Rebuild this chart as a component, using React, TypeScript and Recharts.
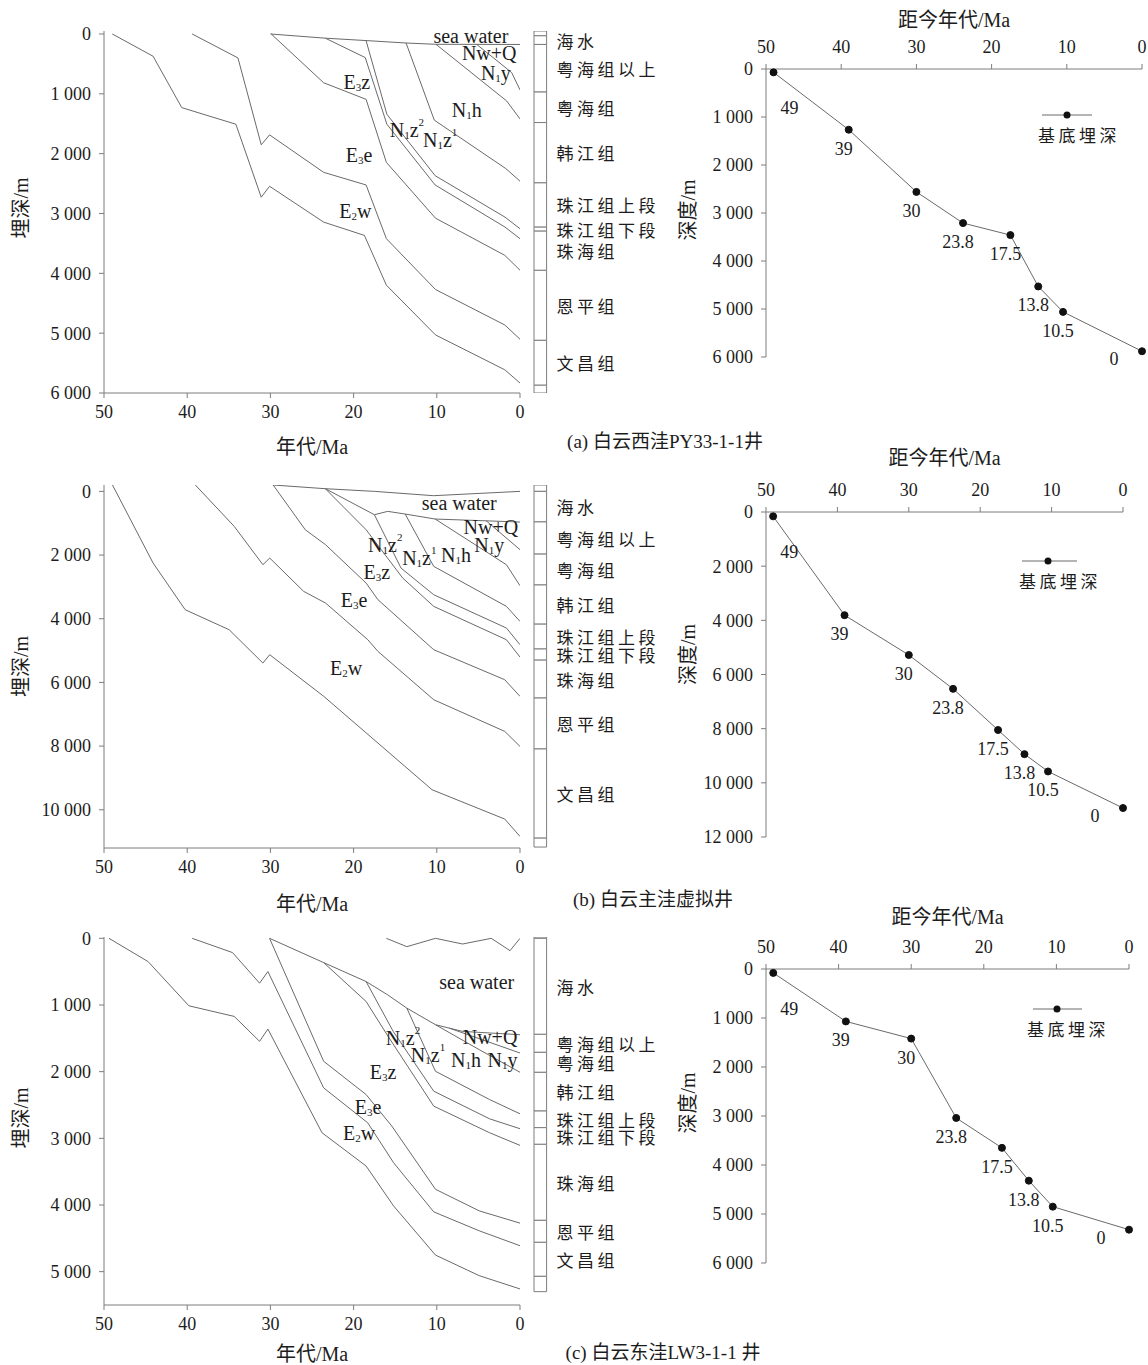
"use client";
import React from 'react';
import { LineChart, Line, XAxis, YAxis, BarChart, Bar, ReferenceDot, LabelList, Legend } from 'recharts';

// 字体与颜色
const SERIF = "'Liberation Serif', 'Noto Sans CJK SC', serif";
const CJK = "'Noto Sans CJK SC', sans-serif";
const INK = '#1c1c1c';
const AXIS = '#7d7d7d';
const CURVE = '#6a6a6a';

const xTicks = [50, 40, 30, 20, 10, 0];

// ---------- (a) 白云西洼 PY33-1-1 井：埋藏史各界面 (年代 Ma, 埋深 m)
const aSeabed = [{ t: 30, d: 0 }, { t: 23.4, d: 70 }, { t: 18.5, d: 110 }, { t: 13.8, d: 150 }, { t: 10.2, d: 172 }, { t: 0, d: 175 }];
const aNwQBase = [{ t: 5.2, d: 174 }, { t: 1.0, d: 645 }, { t: 0, d: 935 }];
const aN1yBase = [{ t: 10.1, d: 172 }, { t: 1.6, d: 1120 }, { t: 0, d: 1420 }];
const aN1hBase = [{ t: 13.7, d: 148 }, { t: 10.3, d: 1440 }, { t: 1.7, d: 2250 }, { t: 0, d: 2460 }];
const aN1z1Base = [{ t: 18.5, d: 111 }, { t: 16.0, d: 1342 }, { t: 10.2, d: 2368 }, { t: 1.8, d: 3061 }, { t: 0, d: 3255 }];
const aN1z2Base = [{ t: 23.4, d: 70 }, { t: 18.6, d: 394 }, { t: 16.0, d: 1508 }, { t: 10.2, d: 2523 }, { t: 1.8, d: 3227 }, { t: 0, d: 3421 }];
const aE3zBase = [{ t: 29.9, d: 0 }, { t: 23.6, d: 815 }, { t: 18.5, d: 1092 }, { t: 16.06, d: 2146 }, { t: 10.16, d: 3078 }, { t: 1.83, d: 3699 }, { t: 0, d: 3948 }];
const aE3eBase = [{ t: 39.4, d: 0 }, { t: 33.9, d: 400 }, { t: 31.1, d: 1852 }, { t: 30.1, d: 1686 }, { t: 23.6, d: 2312 }, { t: 18.5, d: 2523 }, { t: 16.06, d: 3421 }, { t: 10.16, d: 4270 }, { t: 1.83, d: 4863 }, { t: 0, d: 5101 }];
const aE2wBase = [{ t: 49, d: 0 }, { t: 44.1, d: 372 }, { t: 40.65, d: 1231 }, { t: 34.15, d: 1508 }, { t: 31.1, d: 2728 }, { t: 30.1, d: 2545 }, { t: 23.6, d: 3144 }, { t: 18.7, d: 3366 }, { t: 16.06, d: 4198 }, { t: 10.16, d: 5029 }, { t: 1.83, d: 5612 }, { t: 0, d: 5833 }];
const aLabels = [
  { text: 'sea water', t: 5.9, d: 34 },
  { text: 'Nw+Q', t: 3.7, d: 320 },
  { text: 'N_1y', t: 2.9, d: 660 },
  { text: 'N_1h', t: 6.4, d: 1270 },
  { text: 'N_1z^2', t: 13.6, d: 1605 },
  { text: 'N_1z^1', t: 9.6, d: 1772 },
  { text: 'E_3z', t: 19.6, d: 802 },
  { text: 'E_3e', t: 19.35, d: 2022 },
  { text: 'E_2w', t: 19.8, d: 2958 },
];
const aColumn = [-50, 30, 175, 970, 1480, 2488, 3228, 3295, 3950, 5120, 5870, 6000];
const aBasement = [70, 1265, 2560, 3210, 3460, 4530, 5060, 5880];

// ---------- (b) 白云主洼虚拟井
const bSeaSurface = [{ t: 29.7, d: -200 }, { t: 23.4, d: -84 }, { t: 17.5, d: 0 }, { t: 10.4, d: 136 }, { t: 0, d: 0 }];
const bSeabed = [{ t: 23.4, d: -84 }, { t: 17.5, d: 733 }, { t: 15.9, d: 628 }, { t: 13.8, d: 712 }, { t: 10.2, d: 869 }, { t: 0, d: 963 }];
const bNwQBase = [{ t: 4.1, d: 915 }, { t: 0, d: 1832 }];
const bN1yBase = [{ t: 10.2, d: 869 }, { t: 1.63, d: 2304 }, { t: 0, d: 2963 }];
const bN1hBase = [{ t: 13.8, d: 712 }, { t: 10.37, d: 2356 }, { t: 1.63, d: 3612 }, { t: 0, d: 4083 }];
const bN1z1Base = [{ t: 17.5, d: 733 }, { t: 14.3, d: 2409 }, { t: 10.37, d: 3246 }, { t: 1.63, d: 4292 }, { t: 0, d: 4816 }];
const bN1z2Base = [{ t: 23.4, d: -84 }, { t: 18.5, d: 1204 }, { t: 14.1, d: 2722 }, { t: 10.37, d: 3612 }, { t: 1.63, d: 4659 }, { t: 0, d: 5204 }];
const bE3zBase = [{ t: 29.67, d: -200 }, { t: 25.81, d: 1204 }, { t: 23.37, d: 1675 }, { t: 18.5, d: 2879 }, { t: 17.07, d: 3403 }, { t: 10.37, d: 4973 }, { t: 1.83, d: 5916 }, { t: 0, d: 6439 }];
const bE3eBase = [{ t: 39.02, d: -200 }, { t: 34.35, d: 1099 }, { t: 30.9, d: 2303 }, { t: 30.08, d: 2094 }, { t: 26.0, d: 3141 }, { t: 23.37, d: 3507 }, { t: 18.29, d: 4659 }, { t: 17.07, d: 5026 }, { t: 10.37, d: 6544 }, { t: 1.83, d: 7538 }, { t: 0, d: 8010 }];
const bE2wBase = [{ t: 48.98, d: -200 }, { t: 44.1, d: 2251 }, { t: 40.24, d: 3717 }, { t: 34.96, d: 4345 }, { t: 30.9, d: 5392 }, { t: 30.08, d: 5130 }, { t: 23.58, d: 6439 }, { t: 17.07, d: 7905 }, { t: 10.57, d: 9371 }, { t: 1.83, d: 10292 }, { t: 0, d: 10836 }];
const bLabels = [
  { text: 'sea water', t: 7.3, d: 365 },
  { text: 'Nw+Q', t: 3.5, d: 1119 },
  { text: 'N_1y', t: 3.7, d: 1684 },
  { text: 'N_1h', t: 7.7, d: 1998 },
  { text: 'N_1z^1', t: 12.1, d: 2093 },
  { text: 'N_1z^2', t: 16.2, d: 1684 },
  { text: 'E_3z', t: 17.2, d: 2532 },
  { text: 'E_3e', t: 19.95, d: 3412 },
  { text: 'E_2w', t: 20.9, d: 5547 },
];
const bColumn = [-200, 0, 960, 1970, 2940, 4170, 4950, 5300, 6490, 8090, 10890, 11170];
const bBasement = [160, 3810, 5280, 6530, 8050, 8940, 9580, 10930];

// ---------- (c) 白云东洼 LW3-1-1 井
const cSeaSurface = [{ t: 16.06, d: 0 }, { t: 13.6, d: 125 }, { t: 10.16, d: 0 }, { t: 6.9, d: 85 }, { t: 3.45, d: 0 }, { t: 1.2, d: 185 }, { t: 0, d: 0 }];
const cSeabed = [{ t: 30.1, d: 0 }, { t: 23.6, d: 364 }, { t: 18.5, d: 648 }, { t: 15.9, d: 848 }, { t: 13.6, d: 1047 }, { t: 10.16, d: 1296 }, { t: 6.9, d: 1396 }, { t: 0, d: 1446 }];
const cNwQBase = [{ t: 8.5, d: 1347 }, { t: 0, d: 1720 }];
const cN1yBase = [{ t: 10.16, d: 1296 }, { t: 4.9, d: 1670 }, { t: 0, d: 2009 }];
const cN1hBase = [{ t: 13.6, d: 1047 }, { t: 10.16, d: 1994 }, { t: 3.66, d: 2418 }, { t: 0, d: 2632 }];
const cN1z1Base = [{ t: 18.5, d: 648 }, { t: 15.24, d: 1396 }, { t: 10.37, d: 2293 }, { t: 3.66, d: 2707 }, { t: 0, d: 2856 }];
const cN1z2Base = [{ t: 23.6, d: 364 }, { t: 18.5, d: 947 }, { t: 15.85, d: 1471 }, { t: 10.37, d: 2517 }, { t: 3.66, d: 2916 }, { t: 0, d: 3106 }];
const cE3zBase = [{ t: 30.1, d: 0 }, { t: 23.6, d: 1844 }, { t: 18.5, d: 2343 }, { t: 15.4, d: 2817 }, { t: 10.16, d: 3764 }, { t: 4.9, d: 4088 }, { t: 0, d: 4272 }];
const cE3eBase = [{ t: 39.4, d: 0 }, { t: 34.55, d: 214 }, { t: 31.3, d: 673 }, { t: 30.3, d: 498 }, { t: 23.6, d: 2243 }, { t: 18.3, d: 2767 }, { t: 15.2, d: 3365 }, { t: 10.37, d: 4103 }, { t: 4.9, d: 4387 }, { t: 0, d: 4611 }];
const cE2wBase = [{ t: 49.4, d: 0 }, { t: 44.7, d: 349 }, { t: 39.8, d: 1012 }, { t: 34.35, d: 1171 }, { t: 31.3, d: 1545 }, { t: 30.3, d: 1361 }, { t: 23.8, d: 2916 }, { t: 18.5, d: 3415 }, { t: 15.2, d: 4013 }, { t: 10.16, d: 4751 }, { t: 4.9, d: 5060 }, { t: 0, d: 5259 }];
const cLabels = [
  { text: 'sea water', t: 5.2, d: 650 },
  { text: 'Nw+Q', t: 3.6, d: 1475 },
  { text: 'N_1y', t: 2.1, d: 1825 },
  { text: 'N_1h', t: 6.5, d: 1825 },
  { text: 'N_1z^1', t: 11.06, d: 1750 },
  { text: 'N_1z^2', t: 14.06, d: 1495 },
  { text: 'E_3z', t: 16.47, d: 2000 },
  { text: 'E_3e', t: 18.27, d: 2525 },
  { text: 'E_2w', t: 19.35, d: 2920 },
];
const cColumn = [-20, 0, 1440, 1710, 2010, 2590, 2840, 3090, 4230, 4560, 5070, 5300];
const cBasement = [80, 1070, 1420, 3040, 3650, 4320, 4850, 5320];

// 地层柱各段名称（首尾为空段）
const columnNames = ['', '海水', '粤海组以上', '粤海组', '韩江组', '珠江组上段', '珠江组下段', '珠海组', '恩平组', '文昌组', ''];
// 基底埋深点的年代
const ages = [49, 39, 30, 23.8, 17.5, 13.8, 10.5, 0];

const fmt = (v: number) => (v >= 1000 ? `${Math.floor(v / 1000)} ${String(v % 1000).padStart(3, '0')}` : String(v));

const XTitle = (props: any) => {
  const { viewBox, value, gap, side } = props;
  const cx = viewBox.x + viewBox.width / 2;
  const cy = side === 'bottom' ? viewBox.y + gap : viewBox.y + viewBox.height - gap;
  return (
    <text x={cx} y={cy} textAnchor="middle" dominantBaseline="central" fill={INK} fontSize={20} fontFamily={SERIF}>
      {value}
    </text>
  );
};

const YTitle = (props: any) => {
  const { viewBox, value, dx, dy } = props;
  const cx = viewBox.x + dx;
  const cy = viewBox.y + viewBox.height / 2 + dy;
  return (
    <text x={cx} y={cy} transform={`rotate(-90 ${cx} ${cy})`} textAnchor="middle" dominantBaseline="central" fill={INK} fontSize={20} fontFamily={SERIF}>
      {value}
    </text>
  );
};

// "E_3z" / "N_1z^2" 之类的地层符号
const FormationText = ({ cx, cy, text }: { cx: number; cy: number; text: string }) => {
  const parts = text.split(/(_\d|\^\d)/).filter(Boolean);
  let shift = 0;
  const spans = parts.map((p, i) => {
    if (p[0] === '_') {
      const el = <tspan key={i} dy={5 - shift} fontSize={11}>{p[1]}</tspan>;
      shift = 5;
      return el;
    }
    if (p[0] === '^') {
      const el = <tspan key={i} dy={-8 - shift} fontSize={11}>{p[1]}</tspan>;
      shift = -8;
      return el;
    }
    const el = <tspan key={i} dy={-shift}>{p}</tspan>;
    shift = 0;
    return el;
  });
  return (
    <text x={cx} y={cy} textAnchor="middle" dominantBaseline="central" fill={INK} fontSize={20} fontFamily={SERIF}>
      {spans}
    </text>
  );
};

function BurialChart({ top, height, domain, ticks, lines, labels, titleGap, yDy }: any) {
  return (
    <div style={{ position: 'absolute', left: 0, top }}>
      <LineChart width={540} height={height + 16} margin={{ top: 31, right: 20, bottom: 16, left: 0 }}>
        <XAxis xAxisId="b" dataKey="t" type="number" domain={[0, 50]} reversed ticks={xTicks} allowDataOverflow height={60}
          stroke={AXIS} tickSize={5} tickMargin={7} tick={{ fill: INK, fontSize: 18, fontFamily: SERIF }}
          label={<XTitle value="年代/Ma" gap={titleGap} side="bottom" />} />
        <XAxis xAxisId="t" orientation="top" type="number" domain={[0, 50]} reversed height={0} tick={false} tickLine={false} stroke={AXIS} />
        <YAxis yAxisId="l" type="number" domain={domain} reversed ticks={ticks} allowDataOverflow width={104}
          stroke={AXIS} tickSize={5} tickMargin={8} tickFormatter={fmt} tick={{ fill: INK, fontSize: 18, fontFamily: SERIF }}
          label={<YTitle value="埋深/m" dx={21} dy={yDy} />} />
        <YAxis yAxisId="r" orientation="right" type="number" domain={domain} reversed width={0} tick={false} tickLine={false} stroke={AXIS} />
        {lines.map((data: any[], i: number) => (
          <Line key={i} xAxisId="b" yAxisId="l" data={data} dataKey="d" type="linear" stroke={CURVE} strokeWidth={1}
            dot={false} activeDot={false} isAnimationActive={false} />
        ))}
        {labels.map((l: any, i: number) => (
          <ReferenceDot key={i} xAxisId="b" yAxisId="l" x={l.t} y={l.d} r={0}
            shape={(p: any) => <FormationText cx={p.cx} cy={p.cy} text={l.text} />} />
        ))}
      </LineChart>
    </div>
  );
}

function StrataColumn({ top, height, bounds, domain }: any) {
  const row: Record<string, any> = { name: 'col' };
  for (let i = 0; i < bounds.length - 1; i++) row['s' + i] = bounds[i + 1] - bounds[i];
  const span = domain[1] - bounds[0];
  return (
    <div style={{ position: 'absolute', left: 533, top }}>
      <BarChart width={140} height={height} data={[row]} margin={{ top: 31, right: 126, bottom: 60, left: 0 }} barCategoryGap={0}>
        <XAxis dataKey="name" hide />
        <YAxis type="number" domain={[0, span]} reversed hide allowDataOverflow />
        {columnNames.map((n, i) => (
          <Bar key={i} dataKey={'s' + i} stackId="c" fill="#ffffff" stroke={AXIS} strokeWidth={1} barSize={14} isAnimationActive={false}
            label={n ? (p: any) => {
              const vb = p.viewBox ?? p;
              return (
                <text x={vb.x + vb.width + 10} y={vb.y + vb.height / 2} dominantBaseline="central" fill={INK}
                  fontSize={17} letterSpacing={3.5} fontFamily={CJK}>{n}</text>
              );
            } : false} />
        ))}
      </BarChart>
    </div>
  );
}

const AgeLabel = (p: any) => {
  const vb = p.viewBox ?? p;
  const x = vb.x ?? p.x;
  const y = vb.y ?? p.y;
  const last = ages.length - 1;
  const dx = p.index === 0 ? 16 : p.index === last ? -28 : -5;
  const dy = p.index === 0 ? 36 : p.index === last ? 8 : 19;
  return (
    <text x={x + dx} y={y + dy} textAnchor="middle" dominantBaseline="central" fill={INK} fontSize={18} fontFamily={SERIF}>
      {p.value}
    </text>
  );
};

const BaseLegend = ({ x1, x2, dot, pad }: any) => (
  <div style={{ width: 110 }}>
    <svg width={110} height={20} style={{ display: 'block' }}>
      <line x1={x1} x2={x2} y1={10} y2={10} stroke={CURVE} strokeWidth={1} />
      <circle cx={dot} cy={10} r={3.5} fill="#111" />
    </svg>
    <div style={{ fontFamily: CJK, fontSize: 17, letterSpacing: 3.5, lineHeight: '20px', paddingLeft: pad, color: INK, whiteSpace: 'nowrap' }}>
      基底埋深
    </div>
  </div>
);

function DepthChart({ top, width, height, marginTop, depths, domainMax, ticks, titleGap, yDy, legend }: any) {
  const data = ages.map((t, i) => ({ t, d: depths[i] }));
  return (
    <div style={{ position: 'absolute', left: 670, top }}>
      <LineChart width={width + 10} height={height + 12} data={data} margin={{ top: marginTop, right: 6, bottom: 22, left: 0 }}>
        <XAxis dataKey="t" type="number" orientation="top" domain={[0, 50]} reversed ticks={xTicks} height={50}
          stroke={AXIS} tickSize={5} tickMargin={11} tick={{ fill: INK, fontSize: 18, fontFamily: SERIF }}
          label={<XTitle value="距今年代/Ma" gap={titleGap} side="top" />} />
        <YAxis type="number" domain={[0, domainMax]} reversed ticks={ticks} width={96}
          stroke={AXIS} tickSize={5} tickMargin={8} tickFormatter={fmt} tick={{ fill: INK, fontSize: 18, fontFamily: SERIF }}
          label={<YTitle value="深度/m" dx={18} dy={yDy} />} />
        <Line dataKey="d" type="linear" stroke={CURVE} strokeWidth={1} isAnimationActive={false}
          dot={{ r: 3.5, fill: '#111', stroke: '#111', strokeWidth: 1 }} activeDot={false}>
          <LabelList dataKey="t" content={AgeLabel} />
        </Line>
        <Legend layout="vertical" align="center" verticalAlign="middle"
          wrapperStyle={{ left: legend.left + 10, top: legend.top, width: 110 }}
          content={() => <BaseLegend {...legend} />} />
      </LineChart>
    </div>
  );
}

const Caption = ({ cx, cy, text }: any) => (
  <div style={{ position: 'absolute', left: cx - 150, top: cy - 12, width: 300, textAlign: 'center', lineHeight: '24px', fontSize: 19, fontFamily: SERIF, color: INK }}>
    {text}
  </div>
);

export default function App() {
  const linesA = [aSeabed, aNwQBase, aN1yBase, aN1hBase, aN1z1Base, aN1z2Base, aE3zBase, aE3eBase, aE2wBase];
  const linesB = [bSeaSurface, bSeabed, bNwQBase, bN1yBase, bN1hBase, bN1z1Base, bN1z2Base, bE3zBase, bE3eBase, bE2wBase];
  const linesC = [cSeaSurface, cSeabed, cNwQBase, cN1yBase, cN1hBase, cN1z1Base, cN1z2Base, cE3zBase, cE3eBase, cE2wBase];
  return (
    <div style={{ position: 'absolute', left: 0, top: 0, width: 1148, height: 1365, background: '#fff', fontFamily: SERIF, overflow: 'hidden' }}>
      <BurialChart top={0} height={453} domain={[-50, 6000]} ticks={[0, 1000, 2000, 3000, 4000, 5000, 6000]} lines={linesA} labels={aLabels} titleGap={54} yDy={-4} />
      <StrataColumn top={0} height={453} bounds={aColumn} domain={[-50, 6000]} />
      <DepthChart top={0} width={468} height={367} marginTop={19} depths={aBasement} domainMax={6000}
        ticks={[0, 1000, 2000, 3000, 4000, 5000, 6000]} titleGap={49} yDy={-3}
        legend={{ left: 352, top: 105, x1: 10, x2: 60, dot: 35, pad: 6 }} />
      <Caption cx={665} cy={442} text="(a) 白云西洼PY33-1-1井" />

      <BurialChart top={454} height={454} domain={[-200, 11200]} ticks={[0, 2000, 4000, 6000, 8000, 10000]} lines={linesB} labels={bLabels} titleGap={56} yDy={0} />
      <StrataColumn top={454} height={454} bounds={bColumn} domain={[-200, 11200]} />
      <DepthChart top={440} width={449} height={407} marginTop={22} depths={bBasement} domainMax={12000}
        ticks={[0, 2000, 4000, 6000, 8000, 10000, 12000]} titleGap={54} yDy={-20}
        legend={{ left: 332, top: 111, x1: 10, x2: 65, dot: 36, pad: 7 }} />
      <Caption cx={653} cy={900} text="(b) 白云主洼虚拟井" />

      <BurialChart top={906} height={459} domain={[-20, 5500]} ticks={[0, 1000, 2000, 3000, 4000, 5000]} lines={linesC} labels={cLabels} titleGap={49} yDy={-3} />
      <StrataColumn top={906} height={459} bounds={cColumn} domain={[-20, 5500]} />
      <DepthChart top={898} width={455} height={375} marginTop={21} depths={cBasement} domainMax={6000}
        ticks={[0, 1000, 2000, 3000, 4000, 5000, 6000]} titleGap={52} yDy={-13}
        legend={{ left: 343, top: 101, x1: 10, x2: 59, dot: 34, pad: 4 }} />
      <Caption cx={663} cy={1353} text="(c) 白云东洼LW3-1-1 井" />
    </div>
  );
}
